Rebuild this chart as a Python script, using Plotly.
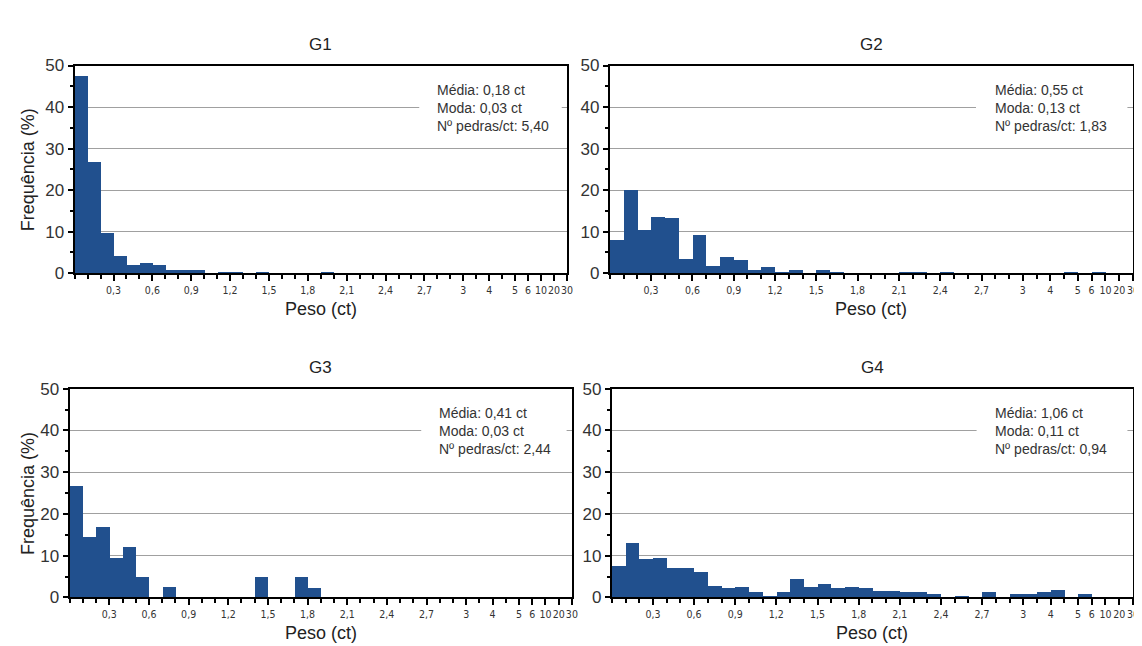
import plotly.graph_objects as go

# ---- data ----
bin_count = 38  # 0.0-3.0 by 0.1, then 3-3.5, 3.5-4, 4-4.5, 4.5-5, 5-6, 6-10, 10-20, 20-30
tick_pos = [3, 6, 9, 12, 15, 18, 21, 24, 27, 30, 32, 34, 35, 36, 37, 38]
tick_text = ["0,3", "0,6", "0,9", "1,2", "1,5", "1,8", "2,1", "2,4", "2,7",
             "3", "4", "5", "6", "10", "20", "30"]

g1 = [47.7, 26.8, 9.7, 4.3, 2.1, 2.6, 2.2, 0.9, 0.9, 0.9, 0, 0.5, 0.5, 0, 0.5, 0, 0, 0, 0, 0.4,
      0, 0, 0, 0, 0, 0, 0, 0, 0, 0, 0, 0, 0, 0, 0, 0, 0, 0]
g2 = [8.0, 20.1, 10.6, 13.7, 13.3, 3.5, 9.2, 1.8, 4.1, 3.4, 1.0, 1.7, 0.5, 1.0, 0, 1.0, 0.5,
      0, 0, 0, 0, 0.4, 0.4, 0, 0.4, 0, 0, 0, 0, 0, 0, 0, 0, 0.4, 0, 0.4, 0, 0]
g3 = [26.8, 14.5, 17.0, 9.6, 12.1, 4.9, 0, 2.6, 0, 0, 0, 0, 0, 0, 4.9, 0, 0, 4.9, 2.4,
      0, 0, 0, 0, 0, 0, 0, 0, 0, 0, 0, 0, 0, 0, 0, 0, 0, 0, 0]
g4 = [7.6, 13.1, 9.2, 9.6, 7.0, 7.0, 6.2, 2.8, 2.2, 2.5, 1.4, 0.5, 1.4, 4.5, 2.5, 3.3, 2.3, 2.5,
      2.2, 1.6, 1.6, 1.4, 1.4, 0.8, 0, 0.5, 0, 1.4, 0, 0.8, 0.8, 1.4, 1.8, 0, 0.8, 0, 0, 0]

titles = ["G1", "G2", "G3", "G4"]
stats = [
    ["Média: 0,18 ct", "Moda: 0,03 ct", "Nº pedras/ct: 5,40"],
    ["Média: 0,55 ct", "Moda: 0,13 ct", "Nº pedras/ct: 1,83"],
    ["Média: 0,41 ct", "Moda: 0,03 ct", "Nº pedras/ct: 2,44"],
    ["Média: 1,06 ct", "Moda: 0,11 ct", "Nº pedras/ct: 0,94"],
]
series = [g1, g2, g3, g4]

# ---- layout geometry (pixels) ----
W, H = 1142, 646
panels_px = [  # x0, x1, ytop, ybottom
    (67, 562, 50, 264),
    (605, 1131, 50, 264),
    (62, 567, 383, 598),
    (607, 1131, 383, 598),
]

BAR = "#21508e"
FONT = "Liberation Sans, Arial, sans-serif"
NARROW = "Liberation Sans Narrow, DejaVu Sans Condensed, Liberation Sans, sans-serif"

fig = go.Figure()
layout = dict(
    width=W, height=H, margin=dict(l=0, r=0, t=0, b=0),
    paper_bgcolor="white", plot_bgcolor="white",
    showlegend=False, bargap=0, font=dict(family=FONT, color="#333"),
    annotations=[], shapes=[],
)

centers = [i + 0.5 for i in range(bin_count)]

for k, (vals, (x0, x1, yt, yb)) in enumerate(zip(series, panels_px)):
    n = "" if k == 0 else str(k + 1)
    xa, ya = "x" + n, "y" + n
    fig.add_trace(go.Bar(x=centers, y=vals, width=1, marker=dict(color=BAR, line=dict(width=0)),
                         xaxis=xa, yaxis=ya, hoverinfo="skip"))
    layout["xaxis" + n] = dict(
        domain=[x0 / W, x1 / W], anchor=ya, range=[-0.001, bin_count + 0.01],
        tickmode="array", tickvals=tick_pos, ticktext=tick_text, tickangle=0,
        ticklabeloverflow="allow",
        ticks="outside", ticklen=6, tickwidth=1.5, tickcolor="black",
        tickfont=dict(family=NARROW, size=10.5, color="#333"),
        minor=dict(tickmode="linear", tick0=0, dtick=1, ticks="outside", ticklen=4,
                   tickwidth=1.5, tickcolor="black", showgrid=False),
        showline=True, linecolor="black", linewidth=2, mirror=True,
        showgrid=False, zeroline=False, fixedrange=True,
    )
    layout["yaxis" + n] = dict(
        domain=[1 - yb / H, 1 - yt / H], anchor=xa, range=[0, 50],
        tickmode="array", tickvals=[0, 10, 20, 30, 40, 50],
        ticks="outside", ticklen=5, tickwidth=1.5, tickcolor="black",
        tickfont=dict(family=FONT, size=17, color="#333"),
        minor=dict(tickmode="linear", tick0=0, dtick=5, ticks="outside", ticklen=3,
                   tickwidth=1.5, tickcolor="black", showgrid=False),
        showline=True, linecolor="black", linewidth=2, mirror=True,
        showgrid=True, gridcolor="#a0a0a0", gridwidth=1, zeroline=False, fixedrange=True,
    )
    # white box behind statistics text (interrupts 40 gridline)
    layout["shapes"].append(dict(
        type="rect", xref=xa, yref=ya, x0=26.6, x1=37.6, y0=33, y1=48,
        fillcolor="white", line=dict(width=0), layer="above",
    ))
    layout["annotations"].append(dict(
        xref=xa, yref=ya, x=27.8, y=46.5,
        xanchor="left", yanchor="top", align="left", showarrow=False,
        text="<br>".join(stats[k]), font=dict(family=FONT, size=14, color="#333"),
    ))
    # panel title
    layout["annotations"].append(dict(
        xref="paper", yref="paper", x=(x0 + x1) / 2 / W, y=1 - (yt - 22) / H,
        xanchor="center", yanchor="middle", showarrow=False,
        text=titles[k], font=dict(family=FONT, size=17, color="#222"),
    ))
    # x axis title
    layout["annotations"].append(dict(
        xref="paper", yref="paper", x=(x0 + x1) / 2 / W, y=1 - (yb + 37) / H,
        xanchor="center", yanchor="middle", showarrow=False,
        text="Peso (ct)", font=dict(family=FONT, size=18, color="#222"),
    ))
    if k in (0, 2):
        layout["annotations"].append(dict(
            xref="paper", yref="paper", x=20 / W, y=1 - (yt + yb) / 2 / H,
            xanchor="center", yanchor="middle", showarrow=False, textangle=-90,
            text="Frequência (%)", font=dict(family=FONT, size=18, color="#222"),
        ))

fig.update_layout(**layout)
fig.write_html("out.html")
